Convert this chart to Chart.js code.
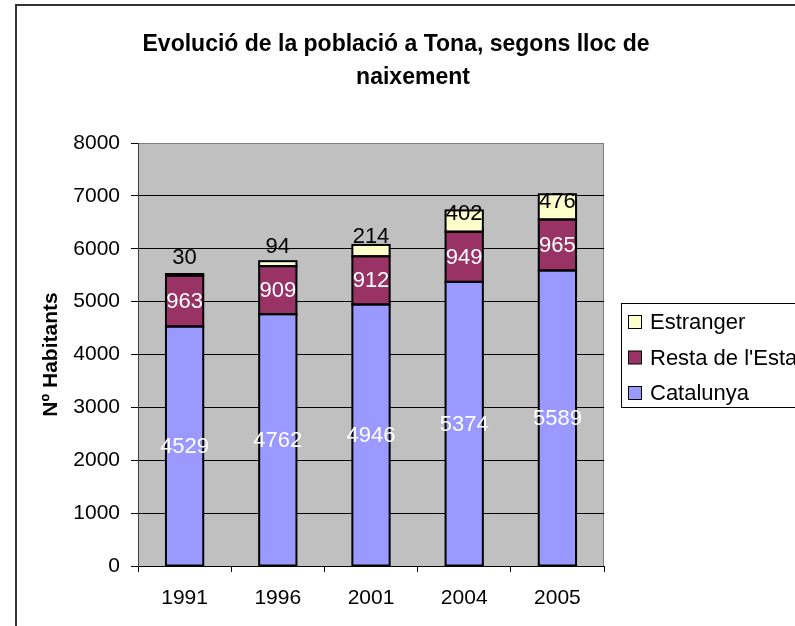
<!DOCTYPE html>
<html>
<head>
<meta charset="utf-8">
<script src="https://cdn.jsdelivr.net/npm/chart.js@4.4.1/dist/chart.umd.min.js"></script>
<style>
  html, body { margin: 0; padding: 0; background: #fff; overflow: hidden; }
  canvas { display: block; }
</style>
</head>
<body>
<canvas id="chart" width="795" height="626"></canvas>
<script>
// Data
var years = ['1991', '1996', '2001', '2004', '2005'];
var catalunya = [4529, 4762, 4946, 5374, 5589];
var restaEstat = [963, 909, 912, 949, 965];
var estranger = [30, 94, 214, 402, 476];
var titleLines = ['Evolució de la població a Tona, segons lloc de', 'naixement'];
var yTitle = 'Nº Habitants';

var FONT = "'Liberation Sans', Arial, sans-serif";

// plot background, outer frame and title
var framePlugin = {
    id: 'frame',
    beforeDraw: function(chart) {
        var ctx = chart.ctx;
        var a = chart.chartArea;
        ctx.save();
        ctx.fillStyle = '#fff';
        ctx.fillRect(0, 0, chart.width, chart.height);
        ctx.strokeStyle = '#333';
        ctx.lineWidth = 2;
        ctx.strokeRect(16, 5, 900, 900);
        ctx.fillStyle = '#C0C0C0';
        ctx.fillRect(a.left, a.top, a.right - a.left, a.bottom - a.top);
        ctx.strokeStyle = '#808080';
        ctx.lineWidth = 1;
        ctx.strokeRect(a.left + 0.5, a.top + 0.5, a.right - a.left - 1, a.bottom - a.top);
        // title
        ctx.fillStyle = '#000';
        ctx.font = 'bold 23px ' + FONT;
        ctx.textAlign = 'center';
        ctx.textBaseline = 'middle';
        ctx.fillText(titleLines[0], 396, 45);
        ctx.fillText(titleLines[1], 413, 78);
        ctx.restore();
    }
};

// outlines (centred on the edges, like Excel) and value labels
var labelPlugin = {
    id: 'segLabels',
    afterDatasetsDraw: function(chart) {
        var ctx = chart.ctx;
        ctx.save();
        ctx.strokeStyle = '#000';
        ctx.lineWidth = 2;
        chart.data.datasets.forEach(function(ds, i) {
            chart.getDatasetMeta(i).data.forEach(function(bar) {
                var p = bar.getProps(['x', 'y', 'base', 'width'], true);
                ctx.strokeRect(p.x - p.width / 2, p.y, p.width, p.base - p.y);
            });
        });
        ctx.font = '22px ' + FONT;
        ctx.textAlign = 'center';
        ctx.textBaseline = 'middle';
        var prevY = [];
        chart.data.datasets.forEach(function(ds, i) {
            var meta = chart.getDatasetMeta(i);
            meta.data.forEach(function(bar, j) {
                var y = (bar.y + bar.base) / 2;
                if (i == 2) {
                    // small top segment: keep label clear of the one below
                    y = Math.min(y, prevY[j] - 44);
                }
                ctx.fillStyle = i < 2 ? '#fff' : '#000';
                ctx.fillText(ds.data[j], bar.x, y + 1);
                prevY[j] = y;
            });
        });
        ctx.restore();
    }
};

// Excel style legend box on the right (runs off the edge)
var legendPlugin = {
    id: 'boxLegend',
    afterDraw: function(chart) {
        var ctx = chart.ctx;
        ctx.save();
        ctx.strokeStyle = '#000';
        ctx.lineWidth = 1;
        ctx.strokeRect(621.5, 303.5, 300, 104);
        ctx.font = '22px ' + FONT;
        ctx.textAlign = 'left';
        ctx.textBaseline = 'middle';
        var sets = chart.data.datasets.slice().reverse();
        sets.forEach(function(ds, k) {
            var cy = 322 + k * 35.5;
            ctx.fillStyle = ds.backgroundColor;
            ctx.fillRect(628.5, cy - 6.5, 13, 13);
            ctx.strokeRect(628.5, cy - 6.5, 13, 13);
            ctx.fillStyle = '#000';
            ctx.fillText(ds.label, 650, cy + 1);
        });
        ctx.restore();
    }
};

var ctx = document.getElementById('chart').getContext('2d');
var myChart = new Chart(ctx, {
    type: 'bar',
    data: {
        labels: years,
        datasets: [
            { label: 'Catalunya', data: catalunya, backgroundColor: '#9999FF' },
            { label: "Resta de l'Estat", data: restaEstat, backgroundColor: '#993366' },
            { label: 'Estranger', data: estranger, backgroundColor: '#FFFFCC' }
        ]
    },
    options: {
        responsive: false,
        animation: false,
        devicePixelRatio: 1,
        layout: { padding: { top: 143, left: 0, right: 191, bottom: 0 } },
        datasets: {
            bar: {
                borderWidth: 0,
                categoryPercentage: 1,
                barPercentage: 0.4
            }
        },
        plugins: {
            legend: { display: false },
            title: { display: false },
            tooltip: { enabled: false }
        },
        scales: {
            x: {
                stacked: true,
                grid: {
                    offset: true,
                    drawOnChartArea: false,
                    drawTicks: true,
                    tickLength: 6,
                    color: '#000'
                },
                border: { color: '#000', width: 1 },
                ticks: {
                    color: '#000',
                    font: { family: FONT, size: 21 },
                    padding: 14,
                    maxRotation: 0
                },
                afterFit: function(scale) { scale.height = 60; }
            },
            y: {
                stacked: true,
                min: 0,
                max: 8000,
                ticks: {
                    stepSize: 1000,
                    color: '#000',
                    font: { family: FONT, size: 21 },
                    padding: 11,
                    callback: function(v) { return String(v); }
                },
                grid: {
                    color: function(c) { return c.tick && c.tick.value == 8000 ? '#808080' : '#000'; },
                    tickColor: '#000',
                    tickLength: 7,
                    drawTicks: true
                },
                border: { color: '#404040', width: 1 },
                title: {
                    display: true,
                    text: yTitle,
                    color: '#000',
                    font: { family: FONT, size: 21, weight: 'bold' },
                    padding: { top: 39, bottom: 0 }
                },
                afterFit: function(scale) { scale.width = 138; }
            }
        }
    },
    plugins: [framePlugin, labelPlugin, legendPlugin]
});
</script>
</body>
</html>
